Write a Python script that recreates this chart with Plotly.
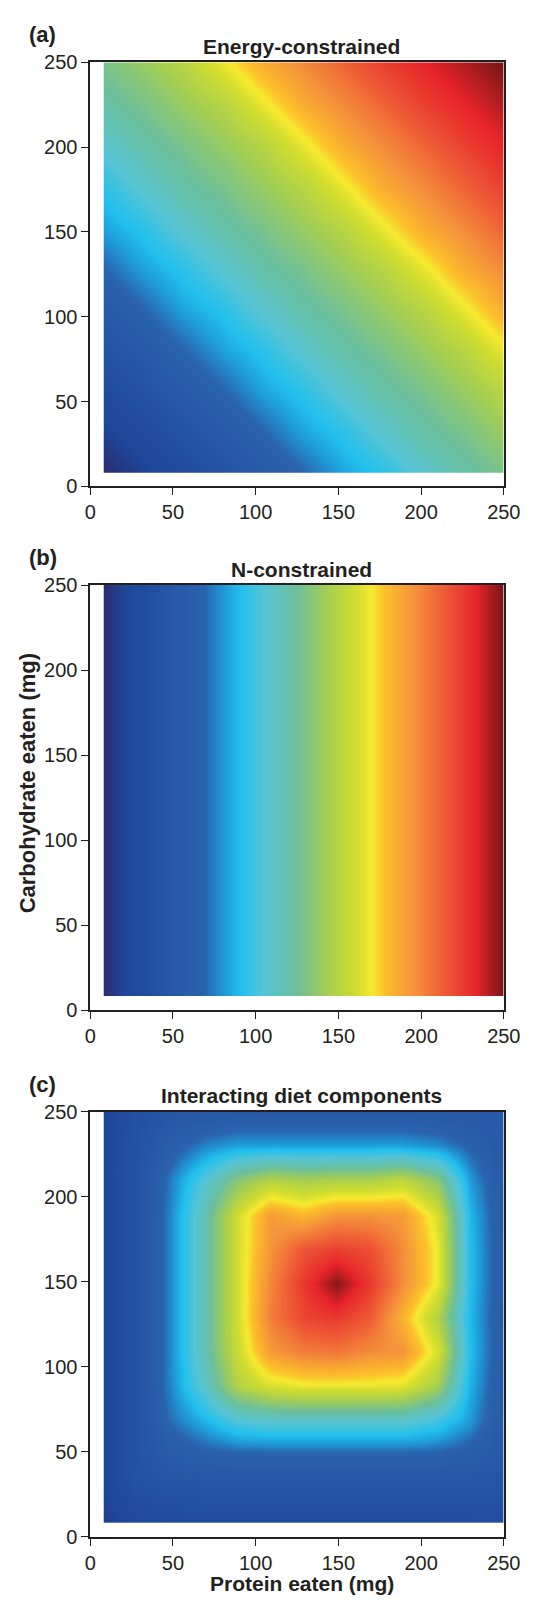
import plotly.graph_objects as go

grid11 = [8, 32, 56, 81, 105, 129, 153, 177, 202, 226, 250]
grid13 = [8, 28, 48, 69, 89, 109, 129, 149, 169, 189, 210, 230, 250]

# (a) Energy-constrained: relative performance, rows = carbohydrate (low->high)
energy_z = [
    [0.00, 0.04, 0.08, 0.14, 0.195, 0.25, 0.31, 0.355, 0.415, 0.465, 0.50],
    [0.04, 0.08, 0.14, 0.195, 0.25, 0.31, 0.355, 0.415, 0.465, 0.50, 0.545],
    [0.08, 0.14, 0.195, 0.25, 0.31, 0.355, 0.415, 0.465, 0.50, 0.545, 0.59],
    [0.14, 0.195, 0.25, 0.31, 0.355, 0.415, 0.465, 0.50, 0.545, 0.59, 0.66],
    [0.195, 0.25, 0.31, 0.355, 0.415, 0.465, 0.50, 0.545, 0.59, 0.66, 0.735],
    [0.25, 0.31, 0.355, 0.415, 0.465, 0.50, 0.545, 0.59, 0.66, 0.735, 0.785],
    [0.31, 0.355, 0.415, 0.465, 0.50, 0.545, 0.59, 0.66, 0.735, 0.785, 0.84],
    [0.355, 0.415, 0.465, 0.50, 0.545, 0.59, 0.66, 0.735, 0.785, 0.84, 0.89],
    [0.415, 0.465, 0.50, 0.545, 0.59, 0.66, 0.735, 0.785, 0.84, 0.89, 0.93],
    [0.465, 0.50, 0.545, 0.59, 0.66, 0.735, 0.785, 0.84, 0.89, 0.93, 0.965],
    [0.50, 0.545, 0.59, 0.66, 0.735, 0.785, 0.84, 0.89, 0.93, 0.965, 1.00],
]

# (b) N-constrained: depends on protein only
n_row = [0.00, 0.10, 0.20, 0.30, 0.40, 0.50, 0.60, 0.70, 0.80, 0.90, 1.00]
n_z = [n_row for _ in grid11]

# (c) Interacting diet components
inter_z = [
    [0.03, 0.07, 0.08, 0.09, 0.09, 0.09, 0.09, 0.09, 0.09, 0.09, 0.09, 0.10, 0.10],
    [0.05, 0.12, 0.14, 0.15, 0.15, 0.15, 0.15, 0.15, 0.15, 0.15, 0.15, 0.15, 0.15],
    [0.05, 0.14, 0.20, 0.23, 0.24, 0.24, 0.24, 0.24, 0.24, 0.24, 0.24, 0.22, 0.18],
    [0.05, 0.14, 0.26, 0.33, 0.40, 0.42, 0.42, 0.42, 0.42, 0.42, 0.38, 0.30, 0.19],
    [0.05, 0.14, 0.28, 0.42, 0.58, 0.64, 0.66, 0.66, 0.66, 0.65, 0.56, 0.32, 0.20],
    [0.05, 0.14, 0.28, 0.45, 0.62, 0.76, 0.80, 0.81, 0.78, 0.77, 0.64, 0.34, 0.20],
    [0.05, 0.14, 0.28, 0.45, 0.63, 0.80, 0.88, 0.90, 0.85, 0.72, 0.58, 0.33, 0.20],
    [0.05, 0.14, 0.28, 0.45, 0.63, 0.79, 0.90, 0.99, 0.90, 0.78, 0.66, 0.34, 0.20],
    [0.05, 0.14, 0.28, 0.45, 0.63, 0.77, 0.86, 0.89, 0.87, 0.78, 0.66, 0.34, 0.20],
    [0.05, 0.14, 0.28, 0.45, 0.63, 0.76, 0.72, 0.77, 0.77, 0.76, 0.64, 0.33, 0.20],
    [0.05, 0.14, 0.27, 0.40, 0.52, 0.58, 0.56, 0.57, 0.57, 0.60, 0.52, 0.30, 0.19],
    [0.05, 0.13, 0.22, 0.28, 0.31, 0.31, 0.31, 0.31, 0.31, 0.31, 0.29, 0.24, 0.18],
    [0.05, 0.12, 0.16, 0.18, 0.18, 0.18, 0.18, 0.18, 0.18, 0.18, 0.18, 0.18, 0.18],
]

tick_vals = [0, 50, 100, 150, 200, 250]
panel_titles = ["Energy-constrained", "N-constrained", "Interacting diet components"]
panel_letters = ["(a)", "(b)", "(c)"]

colorscale = [
    [0.00, "#2a2d6e"],
    [0.05, "#1f4699"],
    [0.25, "#2a63ae"],
    [0.30, "#1f9bd8"],
    [0.34, "#22c0ee"],
    [0.40, "#55c4d6"],
    [0.48, "#6cbf9c"],
    [0.56, "#a6cf52"],
    [0.63, "#d2dd2e"],
    [0.67, "#f6ea30"],
    [0.70, "#fcc22a"],
    [0.77, "#f5943a"],
    [0.85, "#ee5a36"],
    [0.93, "#e6242a"],
    [1.00, "#741616"],
]

W, H = 539, 1604
x_left, x_right = 88, 520
panels_px = [(52, 482), (582, 1013), (1116, 1547)]  # top, bottom of each plot area

FONT = "Liberation Sans, Arial, sans-serif"
INK = "#231f20"

fig = go.Figure()
data = [(grid11, energy_z), (grid11, n_z), (grid13, inter_z)]
for k, (g, z) in enumerate(data):
    xa = "x" if k == 0 else f"x{k+1}"
    ya = "y" if k == 0 else f"y{k+1}"
    fig.add_trace(go.Contour(
        x=g, y=g, z=z, xaxis=xa, yaxis=ya,
        colorscale=colorscale, zmin=0, zmax=1,
        contours=dict(coloring="heatmap", showlines=False),
        line=dict(width=0),
        showscale=False, hoverinfo="skip",
    ))

layout = dict(
    width=W, height=H, margin=dict(l=0, r=0, t=0, b=0),
    paper_bgcolor="white", plot_bgcolor="white",
    font=dict(family=FONT, size=20, color=INK),
    showlegend=False,
)
annotations = []
title_cx = (x_left + x_right) / 2 + 5
for k, (top, bot) in enumerate(panels_px):
    sfx = "" if k == 0 else str(k + 1)
    dom_y = [1 - bot / H, 1 - top / H]
    axis_common = dict(
        range=[0, 250], tickvals=tick_vals, ticks="outside", ticklen=7,
        tickwidth=1.2, tickcolor=INK, showline=True, linecolor=INK,
        linewidth=1.5, mirror=True, showgrid=False, zeroline=False,
        tickfont=dict(family=FONT, size=20, color=INK),
    )
    layout["xaxis" + sfx] = dict(axis_common, domain=[x_left / W, x_right / W],
                                 anchor="y" + sfx)
    layout["yaxis" + sfx] = dict(axis_common, domain=dom_y, anchor="x" + sfx)
    annotations.append(dict(
        text=f"<b>{panel_titles[k]}</b>", xref="paper", yref="paper",
        x=title_cx / W, y=1 - (top - 16) / H,
        xanchor="center", yanchor="middle", showarrow=False,
        font=dict(family=FONT, size=21, color=INK)))
    annotations.append(dict(
        text=f"<b>{panel_letters[k]}</b>", xref="paper", yref="paper",
        x=22 / W, y=1 - (top - 28) / H,
        xanchor="left", yanchor="middle", showarrow=False,
        font=dict(family=FONT, size=22, color=INK)))

annotations.append(dict(
    text="<b>Carbohydrate eaten (mg)</b>", xref="paper", yref="paper",
    x=22 / W, y=1 - 783 / H, textangle=-90,
    xanchor="center", yanchor="middle", showarrow=False,
    font=dict(family=FONT, size=22, color=INK)))
annotations.append(dict(
    text="<b>Protein eaten (mg)</b>", xref="paper", yref="paper",
    x=title_cx / W, y=1 - 1594 / H,
    xanchor="center", yanchor="middle", showarrow=False,
    font=dict(family=FONT, size=21, color=INK)))
layout["annotations"] = annotations

fig.update_layout(**layout)
fig.write_html("out.html", config={"displayModeBar": False},
               post_script="document.body.style.margin='0px';")
